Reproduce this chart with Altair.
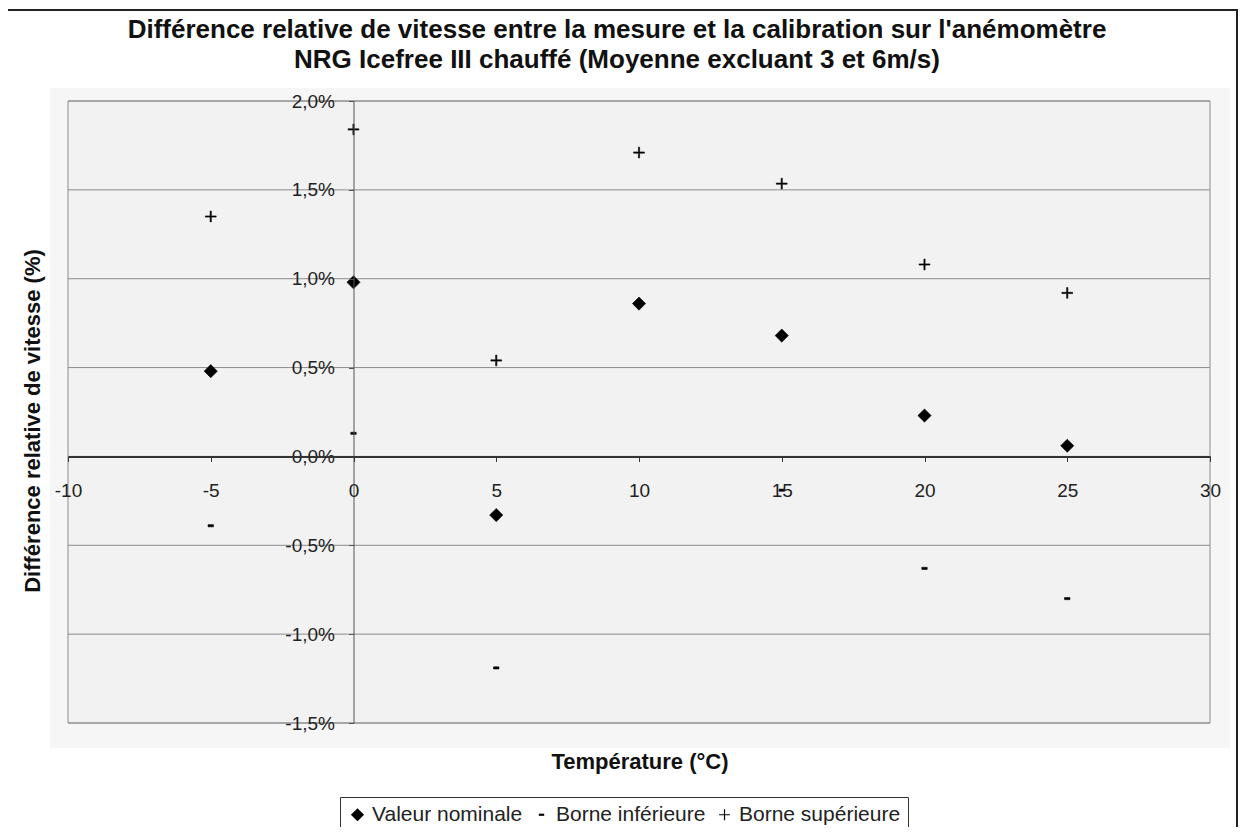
import altair as alt
import pandas as pd

# ---- data ----
temperatures = [-5, 0, 5, 10, 15, 20, 25]
valeur_nominale = [0.48, 0.98, -0.33, 0.86, 0.68, 0.23, 0.06]
borne_inferieure = [-0.39, 0.13, -1.19, None, -0.19, -0.63, -0.80]
borne_superieure = [1.35, 1.84, 0.54, 1.71, 1.535, 1.08, 0.92]

series_names = ["Valeur nominale", "Borne inférieure", "Borne supérieure"]
x_ticks = [-10, -5, 0, 5, 10, 15, 20, 25, 30]
y_ticks = [-1.5, -1.0, -0.5, 0.0, 0.5, 1.0, 1.5, 2.0]

title_lines = [
    "Différence relative de vitesse entre la mesure et la calibration sur l'anémomètre",
    "NRG Icefree III chauffé (Moyenne excluant 3 et 6m/s)",
]
x_title = "Température (°C)"
y_title = "Différence relative de vitesse (%)"

# ---- build table ----
rows = []
for name, vals in zip(series_names, [valeur_nominale, borne_inferieure, borne_superieure]):
    for t, v in zip(temperatures, vals):
        if v is not None:
            rows.append({"T": t, "V": v, "S": name})
df = pd.DataFrame(rows)
grid_df = pd.DataFrame({"g": y_ticks})
one = pd.DataFrame({"k": [0]})

W, H = 1142, 622
FONT = "Liberation Sans"
xmin, xmax = -10, 30
ymin, ymax = -1.5, 2.0
x_off = -(W * (0 - xmin) / (xmax - xmin))
y_off = -(H * (0 - ymin) / (ymax - ymin))

xscale = alt.Scale(domain=[xmin, xmax], nice=False, zero=False)
yscale = alt.Scale(domain=[ymin, ymax], nice=False, zero=False)

xaxis = alt.Axis(
    values=x_ticks, offset=y_off, title=None, grid=False, zindex=2,
    labelExpr="datum.value < 0 ? '-' + format(-datum.value, 'd') : format(datum.value, 'd')",
    domainColor="#333", domainWidth=2, tickColor="#333", tickSize=5, tickWidth=1,
    labelFont=FONT, labelFontSize=19, labelColor="#222", labelPadding=20,
    labelFlush=False, labelOverlap=False,
)
yaxis = alt.Axis(
    values=y_ticks, offset=x_off, title=None, grid=False, zindex=1,
    labelExpr="(datum.value < 0 ? '-' : '') + replace(format(abs(datum.value), '.1f'), '.', ',') + '%'",
    domainColor="#555", domainWidth=1, tickColor="#555", tickSize=5,
    labelFont=FONT, labelFontSize=19, labelColor="#222", labelPadding=14,
    labelFlush=False, labelOverlap=False,
)

shape_paths = [
    "M0,-1.1L1.1,0L0,1.1L-1.1,0Z",
    "M-0.45,-0.18H0.45V0.18H-0.45Z",
    "M-0.9,-0.1H-0.1V-0.9H0.1V-0.1H0.9V0.1H0.1V0.9H-0.1V0.1H-0.9Z",
]

frame = alt.Chart(one).mark_rect(fillOpacity=0, stroke="#222", strokeWidth=2).encode(
    x=alt.value(-61), x2=alt.value(1169), y=alt.value(-91), y2=alt.value(800)
)
surround = alt.Chart(one).mark_rect(fill="#f6f6f6", stroke=None).encode(
    x=alt.value(-18), x2=alt.value(1162), y=alt.value(-13), y2=alt.value(647)
)
plot_bg = alt.Chart(one).mark_rect(fill="#f2f2f2", stroke="#8c8c8c", strokeWidth=1).encode(
    x=alt.value(0), x2=alt.value(W), y=alt.value(0), y2=alt.value(H)
)
grid = alt.Chart(grid_df).mark_rule(color="#8c8c8c", strokeWidth=1).encode(
    y=alt.Y("g:Q", scale=yscale, axis=yaxis)
)

title_txt = alt.Chart(one).mark_text(
    text=title_lines, lineHeight=30, fontSize=26, fontWeight="bold", font=FONT,
    align="center", baseline="alphabetic", color="#111"
).encode(x=alt.value(549), y=alt.value(-63))

xtitle_txt = alt.Chart(one).mark_text(
    text=x_title, fontSize=22, fontWeight="bold", font=FONT,
    align="center", baseline="middle", color="#111"
).encode(x=alt.value(572), y=alt.value(661))

ytitle_txt = alt.Chart(one).mark_text(
    text=y_title, fontSize=22, fontWeight="bold", font=FONT, angle=270,
    align="center", baseline="middle", color="#111"
).encode(x=alt.value(-35), y=alt.value(320))

points = alt.Chart(df).mark_point(
    filled=True, fill="black", stroke="black", strokeWidth=0.6, size=144, opacity=1
).encode(
    x=alt.X("T:Q", scale=xscale, axis=xaxis),
    y=alt.Y("V:Q", scale=yscale, axis=yaxis),
    shape=alt.Shape(
        "S:N",
        scale=alt.Scale(domain=series_names, range=shape_paths),
        legend=alt.Legend(
            orient="none", legendX=272, legendY=696, direction="horizontal", title=None,
            strokeColor="#333", fillColor="white", padding=7,
            labelFont=FONT, labelFontSize=21, labelColor="#222", labelOffset=4,
            labelLimit=400,
            symbolSize=144, symbolFillColor="black", symbolStrokeColor="black",
            symbolStrokeWidth=0.6, columnPadding=8,
        ),
    ),
)

chart = (
    alt.layer(frame, surround, plot_bg, grid, title_txt, xtitle_txt, ytitle_txt, points)
    .properties(
        width=W, height=H,
        autosize=alt.AutoSizeParams(type="none"),
        padding={"left": 60, "top": 93, "right": 28, "bottom": 104},
        background="white",
    )
    .configure_view(stroke=None)
)

chart.save("out.html", embed_options={"renderer": "svg", "actions": False})
